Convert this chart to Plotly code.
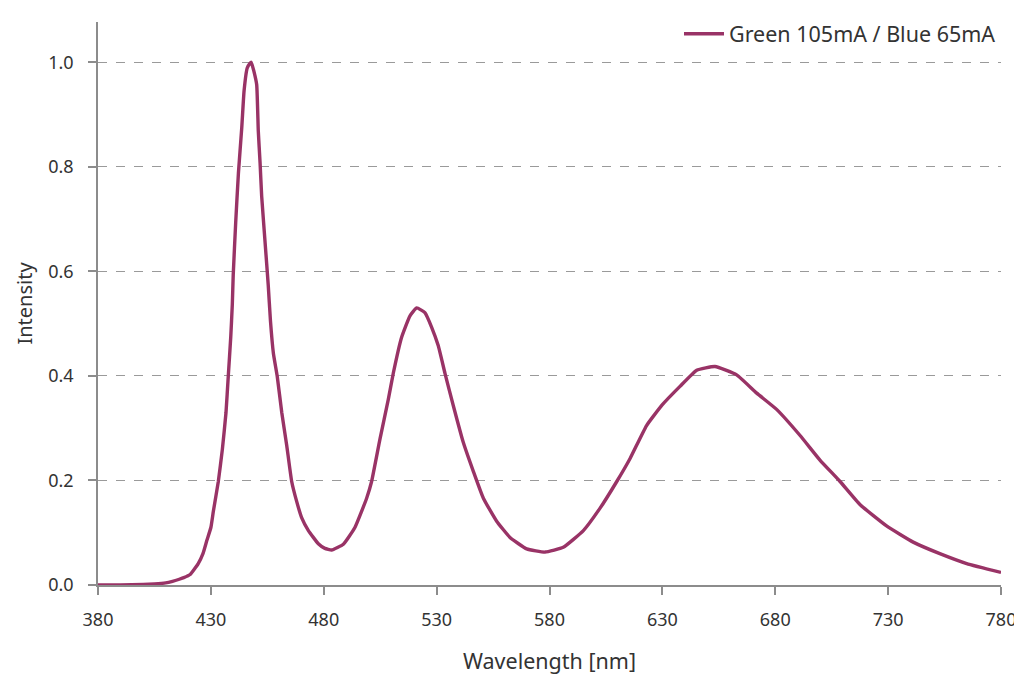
import plotly.graph_objects as go

wavelength = [380, 390, 400, 405, 410, 413, 416, 418, 420.8, 424.4, 426.5, 428.2, 430, 431.1, 433.3, 435.1,
              436.7, 437.7, 438.8, 439.5, 439.9, 441.0, 442.2, 443.7, 444.7, 446.1, 447.3, 447.9, 449.1,
              450.3, 451.0, 451.8, 452.5, 454.0, 455.4, 456.4, 457.7, 459.4, 461.4, 463.6, 465.8, 468.0,
              470.2, 473.2, 477.6, 480.5, 483.5, 488.7, 493.8, 499, 501.2, 504.9, 508.6,
              510.8, 514.5, 518.2, 521.2, 524.8, 527.8, 530.7, 533.7, 537.4, 541.8, 546.3, 550.7, 556.6,
              562.5, 569.9, 578, 586.1, 595, 602.4, 609.8, 615.7, 623, 630, 637.8, 645.2, 653.3, 662.9,
              671.8, 680.6, 691, 699.8, 708.7, 717.5, 729.3, 741.1, 752.9, 764.8, 780]
intensity = [0.0, 0.0, 0.001, 0.002, 0.004, 0.007, 0.011, 0.014, 0.02, 0.041, 0.06, 0.085, 0.11, 0.141,
             0.198, 0.26, 0.33, 0.399, 0.474, 0.537, 0.593, 0.694, 0.788, 0.876, 0.945, 0.989, 0.998,
             1.0, 0.982, 0.957, 0.869, 0.807, 0.744, 0.656, 0.574, 0.505, 0.443, 0.399, 0.33, 0.267,
             0.198, 0.16, 0.129, 0.104, 0.079, 0.07, 0.067, 0.078, 0.11, 0.166, 0.198, 0.279,
             0.355, 0.405, 0.474, 0.515, 0.53, 0.521, 0.493, 0.458, 0.405, 0.343, 0.273, 0.217, 0.166,
             0.122, 0.091, 0.069, 0.063, 0.072, 0.104, 0.147, 0.198, 0.242, 0.305, 0.345, 0.38, 0.411,
             0.418, 0.402, 0.367, 0.336, 0.286, 0.239, 0.198, 0.154, 0.113, 0.082, 0.06, 0.041, 0.024]

series_name = "Green 105mA / Blue 65mA"
x_ticks = [380, 430, 480, 530, 580, 630, 680, 730, 780]
y_ticks = [0.0, 0.2, 0.4, 0.6, 0.8, 1.0]

fig = go.Figure()
fig.add_trace(go.Scatter(x=wavelength, y=intensity, mode="lines", name=series_name,
                         line=dict(color="#993366", width=3.4, shape="spline", smoothing=0.4),
                         showlegend=True))

font_family = "Noto Sans, Open Sans, sans-serif"
axis_color = "#8c8c8c"
# page body has an 8px default margin, so the figure is sized/offset to compensate
fig.update_layout(
    width=1014, height=667,
    margin=dict(l=90, r=21, t=5, b=90),
    paper_bgcolor="white", plot_bgcolor="white",
    font=dict(family=font_family, size=18, color="#333333"),
    showlegend=True,
    legend=dict(x=1.0, xanchor="right", y=0.979, yanchor="middle", bgcolor="rgba(0,0,0,0)",
                font=dict(size=21.5, color="#333333"), itemwidth=40),
    xaxis=dict(range=[380, 780], tickvals=x_ticks, ticktext=[str(v) for v in x_ticks],
               showgrid=False, zeroline=False, showline=True, linecolor=axis_color, linewidth=1.5,
               ticks="outside", ticklen=8, tickcolor=axis_color, tickwidth=1.5,
               ticklabelstandoff=10, automargin=False, tickfont=dict(size=18),
               title=dict(text="Wavelength [nm]", standoff=29, font=dict(size=21.5))),
    yaxis=dict(range=[0, 1.077], tickvals=y_ticks, ticktext=[f"{v:.1f}" for v in y_ticks],
               showgrid=True, gridcolor="#9a9a9a", griddash="dash", gridwidth=1,
               zeroline=False, showline=True, linecolor=axis_color, linewidth=1.5,
               ticks="outside", ticklen=8, tickcolor=axis_color, tickwidth=1.5,
               ticklabelstandoff=11, automargin=False, tickfont=dict(size=18),
               title=dict(text="Intensity", standoff=10, font=dict(size=20))),
)

fig.write_html("out.html")
